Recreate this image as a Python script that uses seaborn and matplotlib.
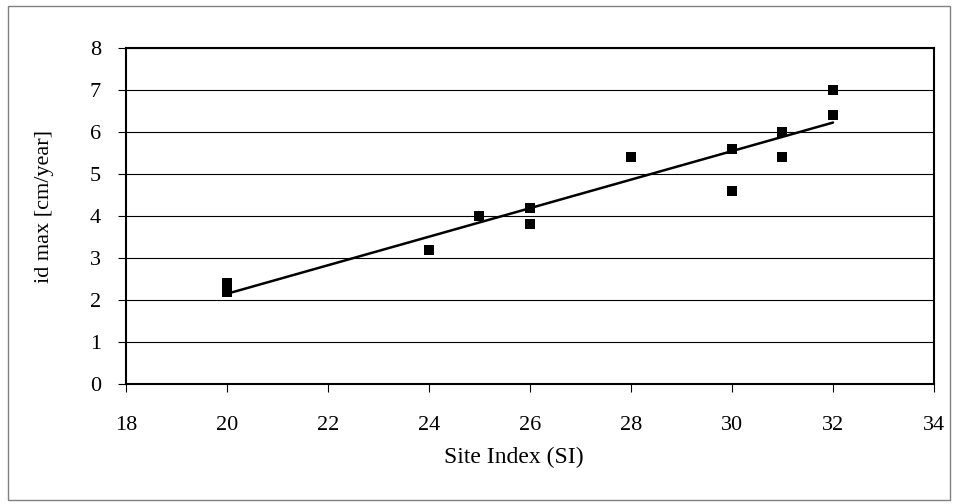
import matplotlib.pyplot as plt
import seaborn as sns
import pandas as pd
from matplotlib.patches import Rectangle

site_index = [20, 20, 24, 25, 26, 26, 28, 30, 30, 31, 31, 32, 32]
id_max = [2.2, 2.4, 3.2, 4.0, 4.2, 3.8, 5.4, 5.6, 4.6, 6.0, 5.4, 7.0, 6.4]
x_ticks = [18, 20, 22, 24, 26, 28, 30, 32, 34]
y_ticks = [0, 1, 2, 3, 4, 5, 6, 7, 8]

df = pd.DataFrame({'SI': site_index, 'idmax': id_max})

sns.set_theme(style="white")
plt.rcParams['font.family'] = ['Liberation Serif', 'DejaVu Serif']

fig = plt.figure(figsize=(9.59, 5.04), dpi=100)
ax = fig.add_axes([126 / 959, 1 - 384 / 504, (934 - 126) / 959, (384 - 48) / 504])

sns.regplot(
    data=df, x='SI', y='idmax', ax=ax, ci=None, truncate=True,
    marker='s',
    scatter_kws={'s': 52, 'color': 'black', 'alpha': 1, 'linewidths': 0, 'zorder': 3},
    line_kws={'color': 'black', 'linewidth': 1.8, 'zorder': 4},
)

ax.set_xlim(18, 34)
ax.set_ylim(0, 8)
ax.set_xticks(x_ticks)
ax.set_yticks(y_ticks)
ax.yaxis.grid(True, color='black', linewidth=0.8)
ax.set_axisbelow(True)
for s in ax.spines.values():
    s.set_color('black')
    s.set_linewidth(1.5)
ax.tick_params(axis='both', direction='out', length=6, width=0.8, color='black',
               labelsize=16, labelcolor='black', bottom=True, left=True)
ax.tick_params(axis='x', pad=17)
ax.tick_params(axis='y', pad=12)
ax.set_xlabel('Site Index (SI)', fontsize=17, color='black')
ax.set_ylabel('id max [cm/year]', fontsize=16, color='black')
ax.xaxis.set_label_coords(0.480, -0.1875)
ax.yaxis.set_label_coords(-0.089, 0.527)

fig.patches.append(Rectangle((8 / 959, 4 / 504), 942 / 959, 494 / 504,
                             transform=fig.transFigure, fill=False,
                             edgecolor='#808080', linewidth=1))

plt.savefig('out.png', dpi=100)
